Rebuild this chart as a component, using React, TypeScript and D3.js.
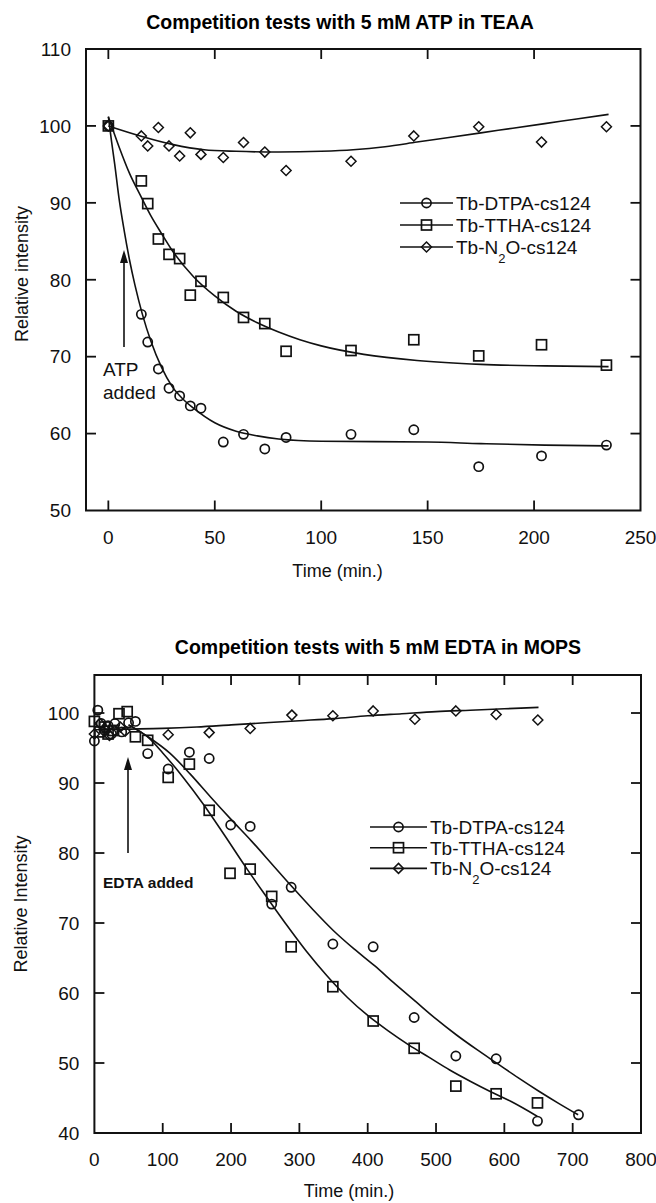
import React, { useEffect, useRef } from "react";
import * as d3 from "d3";

// ---- top panel: 5 mM ATP in TEAA ----
const atpTime = [0, 15.5, 18.5, 23.5, 28.5, 33.5, 38.5, 43.5, 54, 63.5, 73.5, 83.5, 114, 143.5, 174, 203.5, 234];
const atpDtpa = [100, 75.5, 71.9, 68.4, 65.9, 64.9, 63.6, 63.3, 58.9, 59.9, 58.0, 59.5, 59.9, 60.5, 55.7, 57.1, 58.5];
const atpTtha = [100, 92.85, 89.9, 85.3, 83.3, 82.75, 78.0, 79.8, 77.7, 75.1, 74.3, 70.7, 70.8, 72.2, 70.1, 71.55, 68.9];
const atpN2o = [100, 98.7, 97.4, 99.8, 97.4, 96.1, 99.1, 96.3, 95.9, 97.85, 96.6, 94.2, 95.4, 98.7, 99.9, 97.9, 99.9];

// fitted curves
const atpDtpaFitT = [0, 1.5, 3, 5, 7.5, 10, 12.5, 16, 20, 25, 30, 35, 40, 50, 60, 70, 80, 100, 150, 175, 205, 235];
const atpDtpaFit = [101.2, 98, 95, 90.6, 86.3, 82.5, 79.3, 75.5, 72, 68.6, 66.1, 64.5, 63.3, 61.4, 60.3, 59.7, 59.3, 59.0, 58.9, 58.7, 58.5, 58.4];
const atpTthaFitT = [0, 5, 10, 15, 20, 25, 30, 40, 50, 60, 70, 80, 90, 100, 120, 145, 175, 205, 235];
const atpTthaFit = [101.2, 97.3, 93.8, 91, 88.3, 86, 83.8, 80.4, 77.9, 75.9, 74.4, 73.2, 72.2, 71.4, 70.3, 69.5, 69.0, 68.8, 68.7];
const atpN2oFitT = [0, 15, 30, 45, 60, 80, 100, 115, 130, 145, 160, 175, 190, 205, 220, 235];
const atpN2oFit = [100, 98.7, 97.6, 96.9, 96.7, 96.6, 96.7, 96.9, 97.3, 97.9, 98.5, 99.1, 99.7, 100.3, 100.9, 101.5];

const atpXTicks = [0, 50, 100, 150, 200, 250];
const atpYTicks = [50, 60, 70, 80, 90, 100, 110];

// ---- bottom panel: 5 mM EDTA in MOPS ----
const edtaDtpaTime = [0, 5, 10, 15, 20, 25, 30, 40, 50, 60, 78, 108, 139, 168, 199.5, 228, 259.5, 288, 349, 408, 468, 529, 588, 648.5, 708.5];
const edtaDtpa = [96.0, 100.4, 98.5, 97.5, 98.2, 97.0, 98.5, 97.3, 98.6, 98.8, 94.2, 92.0, 94.4, 93.5, 84.0, 83.8, 72.7, 75.1, 67.0, 66.6, 56.5, 51.0, 50.6, 41.7, 42.6];
const edtaTthaTime = [0, 8, 15, 20, 28, 36, 48, 60, 78, 108, 139, 168, 198.5, 228, 259.5, 288, 349, 408, 468, 529, 588, 648.5];
const edtaTtha = [98.8, 97.3, 98.0, 97.0, 97.5, 99.9, 100.2, 96.6, 96.1, 90.8, 92.7, 86.1, 77.1, 77.7, 73.8, 66.6, 60.9, 56.0, 52.1, 46.7, 45.6, 44.3];
const edtaN2oTime = [0, 8, 15, 22, 30, 38, 45, 108, 168, 228, 289, 349, 408, 469, 529, 588, 649];
const edtaN2o = [97.0, 98.5, 97.8, 96.8, 97.5, 98.0, 97.4, 96.9, 97.2, 97.8, 99.7, 99.6, 100.3, 99.1, 100.3, 99.8, 99.0];

const edtaDtpaFitT = [50, 80, 110, 140, 170, 200, 230, 260, 290, 320, 350, 380, 410, 440, 470, 500, 530, 560, 590, 620, 650, 680, 708];
const edtaDtpaFit = [98.3, 96.5, 94.3, 91.3, 88.0, 84.8, 81.7, 78.4, 75.1, 71.9, 68.9, 66.3, 63.9, 61.3, 58.8, 56.3, 54.0, 51.9, 49.9, 47.9, 46.0, 44.2, 42.6];
const edtaTthaFitT = [50, 80, 100, 130, 160, 190, 220, 250, 280, 310, 340, 370, 400, 430, 460, 490, 520, 550, 580, 610, 648];
const edtaTthaFit = [98.3, 96.4, 94.3, 90.8, 86.9, 82.6, 78.2, 74.0, 69.9, 66.0, 62.5, 59.4, 56.8, 54.6, 52.6, 50.8, 49.0, 47.4, 45.9, 44.5, 42.4];
const edtaN2oFitT = [0, 50, 100, 150, 200, 250, 300, 350, 400, 450, 500, 550, 600, 650];
const edtaN2oFit = [97.6, 97.7, 97.8, 98.0, 98.3, 98.6, 98.9, 99.2, 99.6, 99.9, 100.2, 100.4, 100.6, 100.8];

const edtaXTicks = [0, 100, 200, 300, 400, 500, 600, 700, 800];
const edtaYTicks = [40, 50, 60, 70, 80, 90, 100];

const FONT = "'Liberation Sans', Arial, sans-serif";

function marker(g, kind, x, y) {
  if (kind === "circle") {
    g.append("circle").attr("cx", x).attr("cy", y).attr("r", 4.6)
      .attr("fill", "none").attr("stroke", "#111").attr("stroke-width", 1.7);
  } else if (kind === "square") {
    g.append("rect").attr("x", x - 5).attr("y", y - 5).attr("width", 10).attr("height", 10)
      .attr("fill", "none").attr("stroke", "#111").attr("stroke-width", 1.7);
  } else {
    g.append("path").attr("d", `M${x},${y - 5}L${x + 5},${y}L${x},${y + 5}L${x - 5},${y}Z`)
      .attr("fill", "none").attr("stroke", "#111").attr("stroke-width", 1.5);
  }
}

function drawPanel(svg, p) {
  const x = d3.scaleLinear().domain(p.xDomain).range([p.left, p.right]);
  const y = d3.scaleLinear().domain(p.yDomain).range([p.bottom, p.top]);
  const g = svg.append("g");

  g.append("text").attr("x", p.titleX).attr("y", p.titleY)
    .attr("text-anchor", "middle").style("font-family", FONT)
    .style("font-size", "19.5px").style("font-weight", "bold").text(p.title);

  // fit lines
  const line = d3.line().x(d => x(d[0])).y(d => y(d[1])).curve(d3.curveMonotoneX);
  p.fits.forEach(f => {
    g.append("path").attr("d", line(f.t.map((t, i) => [t, f.v[i]])))
      .attr("fill", "none").attr("stroke", "#111").attr("stroke-width", 1.6);
  });

  // data points
  p.series.forEach(s => {
    s.t.forEach((t, i) => marker(g, s.kind, x(t), y(s.v[i])));
  });

  // frame + inward ticks
  g.append("rect").attr("x", p.left).attr("y", p.top)
    .attr("width", p.right - p.left).attr("height", p.bottom - p.top)
    .attr("fill", "none").attr("stroke", "#111").attr("stroke-width", 2);

  const tl = 10;
  p.xTicks.forEach(t => {
    const px = x(t);
    if (px > p.left + 1 && px < p.right - 1) {
      g.append("line").attr("x1", px).attr("x2", px).attr("y1", p.bottom).attr("y2", p.bottom - tl)
        .attr("stroke", "#111").attr("stroke-width", 1.8);
      g.append("line").attr("x1", px).attr("x2", px).attr("y1", p.top).attr("y2", p.top + tl)
        .attr("stroke", "#111").attr("stroke-width", 1.8);
    }
    g.append("text").attr("x", px).attr("y", p.bottom + 33).attr("text-anchor", "middle")
      .style("font-family", FONT).style("font-size", "19px").attr("fill", "#111").text(t);
  });
  p.yTicks.forEach(t => {
    const py = y(t);
    if (py > p.top + 1 && py < p.bottom - 1) {
      g.append("line").attr("x1", p.left).attr("x2", p.left + tl).attr("y1", py).attr("y2", py)
        .attr("stroke", "#111").attr("stroke-width", 1.8);
      g.append("line").attr("x1", p.right).attr("x2", p.right - tl).attr("y1", py).attr("y2", py)
        .attr("stroke", "#111").attr("stroke-width", 1.8);
    }
    g.append("text").attr("x", p.left - 15).attr("y", py + 6.8).attr("text-anchor", "end")
      .style("font-family", FONT).style("font-size", "19px").attr("fill", "#111").text(t);
  });

  // axis labels
  g.append("text").attr("x", p.xLabelX).attr("y", p.xLabelY).attr("text-anchor", "middle")
    .style("font-family", FONT).style("font-size", "18px").attr("fill", "#111").text("Time (min.)");
  g.append("text").attr("transform", `translate(${p.yLabelX},${p.yLabelY}) rotate(-90)`)
    .attr("text-anchor", "middle").style("font-family", FONT).style("font-size", "18px")
    .attr("fill", "#111").text(p.yLabel);

  // legend
  const names = ["Tb-DTPA-cs124", "Tb-TTHA-cs124"];
  const kinds = ["circle", "square", "diamond"];
  kinds.forEach((k, i) => {
    const ly = p.legY + i * p.legStep;
    g.append("line").attr("x1", p.legX).attr("x2", p.legX + p.legW).attr("y1", ly).attr("y2", ly)
      .attr("stroke", "#111").attr("stroke-width", 1.6);
    marker(g, k, p.legX + p.legW / 2, ly);
    const tx = g.append("text").attr("x", p.legX + p.legW + 3).attr("y", ly + 6.8)
      .style("font-family", FONT).style("font-size", "19px").attr("fill", "#111");
    if (i < 2) tx.text(names[i]);
    else {
      tx.append("tspan").text("Tb-N");
      tx.append("tspan").attr("dy", 9).style("font-size", "13px").text("2");
      tx.append("tspan").attr("dy", -9).text("O-cs124");
    }
  });

  // "added" arrow
  const ax = p.arrowX;
  g.append("line").attr("x1", ax).attr("x2", ax).attr("y1", p.arrowY0).attr("y2", p.arrowY1 + 10)
    .attr("stroke", "#111").attr("stroke-width", 1.6);
  g.append("path").attr("d", `M${ax},${p.arrowY1}L${ax - 4},${p.arrowY1 + 13}L${ax + 4},${p.arrowY1 + 13}Z`)
    .attr("fill", "#111");
  p.note(g);
}

export default function App() {
  const ref = useRef(null);

  useEffect(() => {
    const svg = d3.select(ref.current);
    svg.selectAll("*").remove();

    drawPanel(svg, {
      title: "Competition tests with 5 mM ATP in TEAA", titleX: 340, titleY: 29,
      left: 86, right: 640.5, top: 49, bottom: 510.5,
      xDomain: [-10.5, 250], yDomain: [50, 110],
      xTicks: atpXTicks, yTicks: atpYTicks,
      xLabelX: 337.5, xLabelY: 576.5, yLabelX: 28, yLabelY: 274, yLabel: "Relative intensity",
      legX: 400, legW: 53, legY: 203, legStep: 22,
      arrowX: 124, arrowY0: 347, arrowY1: 250,
      fits: [
        { t: atpDtpaFitT, v: atpDtpaFit },
        { t: atpTthaFitT, v: atpTthaFit },
        { t: atpN2oFitT, v: atpN2oFit },
      ],
      series: [
        { kind: "circle", t: atpTime, v: atpDtpa },
        { kind: "square", t: atpTime, v: atpTtha },
        { kind: "diamond", t: atpTime, v: atpN2o },
      ],
      note: g => {
        g.append("text").attr("x", 103).attr("y", 376).style("font-family", FONT)
          .style("font-size", "19px").attr("fill", "#111").text("ATP");
        g.append("text").attr("x", 103).attr("y", 399).style("font-family", FONT)
          .style("font-size", "19px").attr("fill", "#111").text("added");
      },
    });

    drawPanel(svg, {
      title: "Competition tests with 5 mM EDTA in MOPS", titleX: 378, titleY: 654,
      left: 94.4, right: 641, top: 675, bottom: 1133,
      xDomain: [0, 800], yDomain: [40, 105.43],
      xTicks: edtaXTicks, yTicks: edtaYTicks,
      xLabelX: 349, xLabelY: 1197, yLabelX: 27, yLabelY: 904, yLabel: "Relative Intensity",
      legX: 370, legW: 57, legY: 827, legStep: 20.7,
      arrowX: 128, arrowY0: 853, arrowY1: 757,
      fits: [
        { t: edtaDtpaFitT, v: edtaDtpaFit },
        { t: edtaTthaFitT, v: edtaTthaFit },
        { t: edtaN2oFitT, v: edtaN2oFit },
      ],
      series: [
        { kind: "circle", t: edtaDtpaTime, v: edtaDtpa },
        { kind: "square", t: edtaTthaTime, v: edtaTtha },
        { kind: "diamond", t: edtaN2oTime, v: edtaN2o },
      ],
      note: g => {
        g.append("text").attr("x", 103).attr("y", 888).style("font-family", FONT)
          .style("font-size", "15.5px").style("font-weight", "bold").attr("fill", "#111").text("EDTA added");
      },
    });
  }, []);

  return (
    <svg ref={ref} width={656} height={1203}
      style={{ position: "absolute", left: 0, top: 0, background: "#fff" }} />
  );
}
